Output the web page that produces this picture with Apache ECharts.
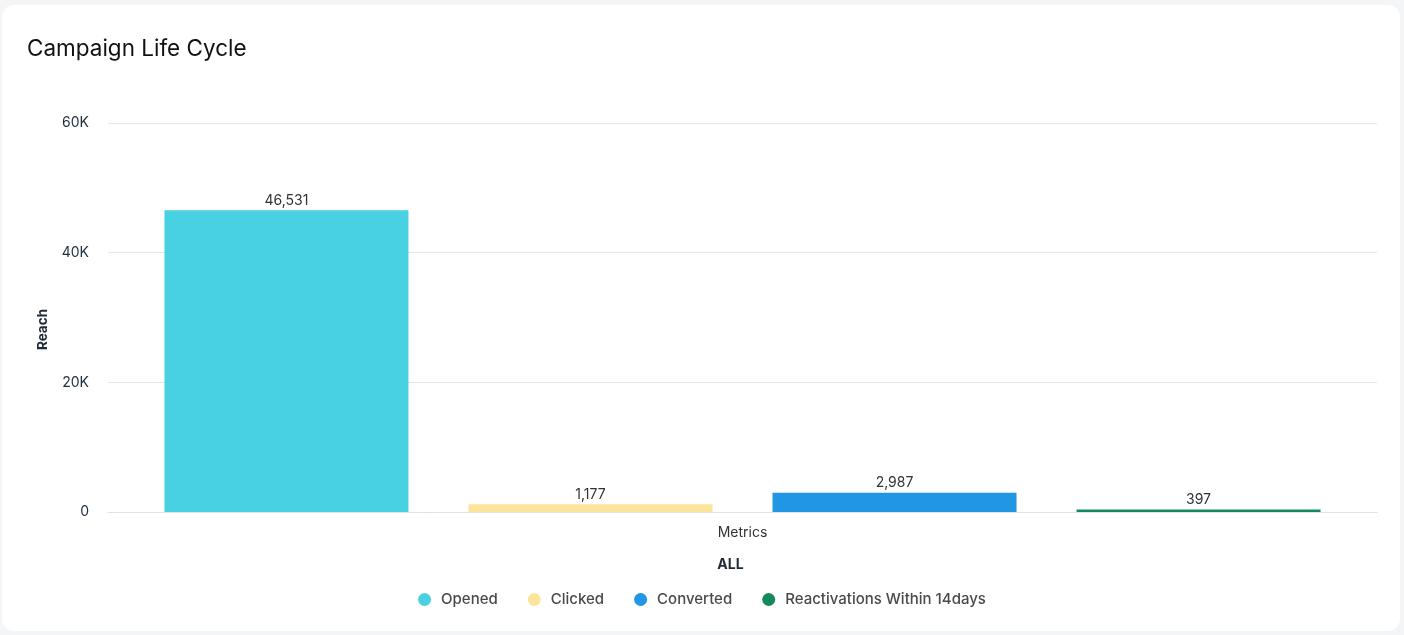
<!DOCTYPE html>
<html>
<head>
<meta charset="utf-8">
<script src="https://cdn.jsdelivr.net/npm/echarts@6/dist/echarts.min.js"></script>
<style>
  html, body { margin: 0; padding: 0; width: 1404px; height: 635px; background: #f4f5f7; overflow: hidden; }
  .card { position: absolute; left: 2px; top: 5px; width: 1398px; height: 626px; background: #fff; border-radius: 12px; }
  #chart { position: absolute; left: 0; top: 0; width: 1404px; height: 635px; }
</style>
</head>
<body>
<div class="card"></div>
<div id="chart"></div>
<script>
// chart data
const categories = ["Metrics"];
const seriesNames = ["Opened", "Clicked", "Converted", "Reactivations Within 14days"];
const seriesValues = [46531, 1177, 2987, 397];
const seriesColors = ["#48d1e0", "#fde49b", "#2196e3", "#148a5c"];
const yTicks = [0, 20000, 40000, 60000];

const font = "Inter, 'Noto Sans', sans-serif";

const chart = echarts.init(document.getElementById("chart"));
const options = {
  backgroundColor: "transparent",
  title: {
    text: "Campaign Life Cycle",
    left: 22,
    top: 33,
    textStyle: { fontFamily: font, fontSize: 22.5, fontWeight: "normal", color: "#111" },
  },
  grid: { left: 108, right: 27, top: 123, bottom: 123 },
  legend: {
    top: 587,
    left: "center",
    icon: "circle",
    itemWidth: 13,
    itemHeight: 13,
    itemGap: 30,
    textStyle: { fontFamily: font, fontSize: 15, fontWeight: 500, color: "#4a4a4a", padding: [0, 0, 0, 5] },
    data: seriesNames,
  },
  xAxis: {
    type: "category",
    data: categories,
    name: "ALL",
    nameLocation: "middle",
    nameGap: 46,
    nameTextStyle: { fontFamily: font, fontSize: 14, fontWeight: "bold", color: "#1f2937", padding: [0, 24, 0, 0] },
    axisTick: { show: false },
    axisLine: { lineStyle: { color: "#e3e3e3" } },
    axisLabel: { fontFamily: font, fontSize: 14, color: "#333", margin: 14 },
  },
  yAxis: {
    type: "value",
    min: yTicks[0],
    max: yTicks[yTicks.length - 1],
    interval: yTicks[1] - yTicks[0],
    name: "Reach",
    nameLocation: "middle",
    nameGap: 58,
    nameTextStyle: { fontFamily: font, fontSize: 13.5, fontWeight: "bold", color: "#1f2937", padding: [0, 24, 0, 0] },
    axisLabel: {
      fontFamily: font,
      fontSize: 14,
      color: "#1f2d3d",
      margin: 19,
      formatter: (v) => (v === 0 ? "0" : v / 1000 + "K"),
    },
    splitLine: { lineStyle: { color: "#e6e6e6" } },
  },
  series: seriesNames.map((name, i) => ({
    name: name,
    type: "bar",
    barWidth: 244,
    barGap: "24.6%",
    itemStyle: { color: seriesColors[i] },
    label: {
      show: true,
      position: "top",
      distance: 3,
      fontFamily: font,
      fontSize: 14,
      color: "#333",
      formatter: (p) => p.value.toLocaleString("en-US"),
    },
    data: [seriesValues[i]],
  })),
};
chart.setOption(options);
</script>
</body>
</html>
